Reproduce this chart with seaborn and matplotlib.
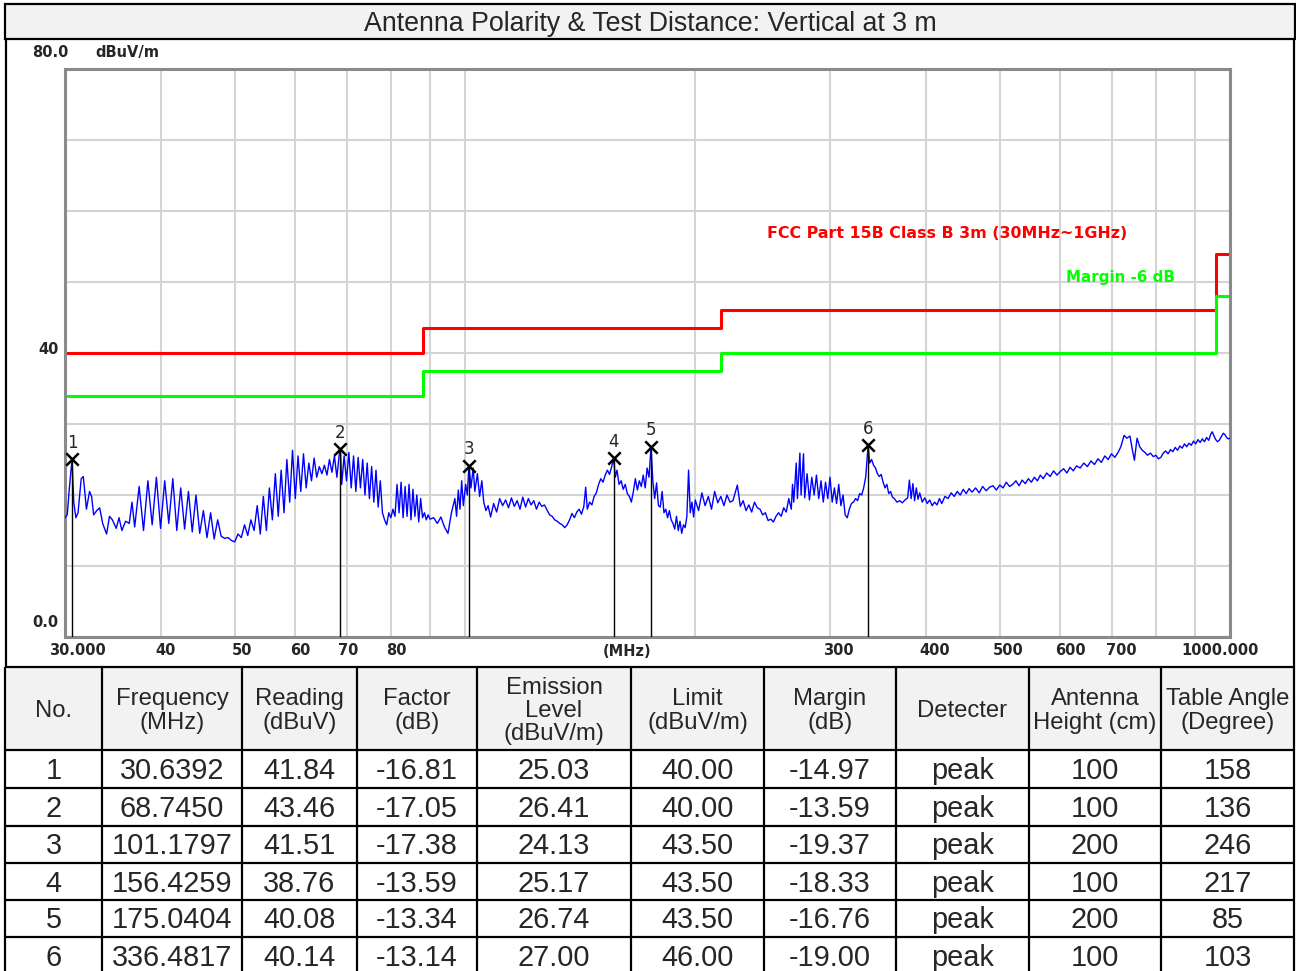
import numpy as np
import pandas as pd
import seaborn as sns
import matplotlib.pyplot as plt
from matplotlib.patches import Rectangle
from matplotlib.ticker import NullFormatter
from matplotlib.transforms import ScaledTranslation

title = "Antenna Polarity & Test Distance: Vertical at 3 m"

trace_mhz = [
    30.0, 30.2, 30.4, 30.64, 30.8, 31.0, 31.2, 31.5, 31.7, 32.0, 32.3, 32.5, 32.7, 33.0, 33.3, 33.6,
    34.0, 34.3, 34.6, 35.0, 35.3, 35.6, 36.0, 36.4, 36.7, 37.0, 37.5, 38.0, 38.5, 39.0, 39.5, 40.0,
    40.5, 41.0, 41.5, 42.0, 42.5, 43.0, 43.5, 44.0, 44.5, 45.0, 45.5, 46.0, 46.5, 47.0, 47.5, 48.0,
    48.5, 49.0, 49.5, 50.0, 50.5, 51.0, 51.5, 52.0, 52.5, 53.0, 53.5, 54.0, 54.5, 55.0, 55.5, 56.0,
    56.5, 57.0, 57.5, 58.0, 58.5, 59.0, 59.5, 60.0, 60.5,
    61.0, 61.5, 62.0, 62.5, 63.0, 63.5, 64.0, 64.5, 65.0, 65.5, 66.0, 66.5, 67.0, 67.5, 68.0, 68.5,
    68.745, 69.0, 69.5, 70.0, 70.5, 71.0, 71.5, 72.0, 72.5, 73.0, 73.5, 74.0, 74.5, 75.0, 75.5, 76.0,
    76.5, 77.0, 77.5, 78.0, 78.5, 79.0, 79.5, 80.0, 80.5, 81.0, 81.5, 82.0, 82.5, 83.0, 83.5, 84.0,
    84.5, 85.0, 85.5, 86.0, 86.5, 87.0, 87.5, 88.0, 88.5, 89.0, 89.5,
    90, 91, 92, 93, 94, 95, 96, 97, 97.5, 98, 98.5, 99, 99.5, 100.2, 100.7, 101.18, 101.8, 102.5,
    103, 103.8, 104.5, 105.2, 105.8, 106.5, 107.2, 108, 109, 110, 111, 112, 113, 114, 115, 116, 117,
    118, 119, 120, 121, 122, 123, 124, 125, 126, 127, 128, 129, 130, 131, 132, 133, 134, 135, 136,
    137, 138, 139, 140, 141, 142, 143, 143.8, 144.5, 145.5, 146.5, 147.5, 148.5, 149.5, 150.5,
    151.5, 152.5, 153.5, 154.5, 155.5, 156.43, 157.2, 158, 159, 160, 161, 162, 163, 164, 165, 166,
    167, 168, 169, 170, 171, 172, 173, 174, 175.04, 176, 177, 178, 179, 180, 181, 182, 183, 184,
    185, 186, 187, 188, 189, 190, 191, 192, 193, 194, 195, 196, 197, 198, 199,
    200, 202, 204, 206, 208, 210, 212, 214, 216, 218, 220, 222, 224, 227, 229, 231, 233, 235, 237,
    239, 241, 243, 245, 247, 249, 251, 253, 255, 257, 259, 261, 263, 265, 267, 268, 269, 271, 272,
    274, 275, 277, 278, 280, 282, 284, 286, 288, 290, 292, 294, 296, 298, 300, 302, 304, 306, 308,
    310, 312, 314, 316, 318, 320, 322, 324, 326, 328, 330, 332, 334, 336.48, 338, 340, 342, 344,
    346, 348, 350, 352, 354, 356, 358, 360, 362, 364, 367, 370, 373, 376, 379, 381, 383, 385, 387,
    389, 391, 393, 396, 399,
    402, 405, 408, 411, 414, 417, 420, 424, 428, 432, 436, 440, 444, 448, 452, 456, 460, 465, 470,
    475, 480, 485, 490, 495, 500, 505, 510, 515, 520, 525, 530, 535, 540, 545, 550, 555, 560, 565,
    570, 576, 582, 588, 594, 600, 606, 612, 618, 624, 630, 637, 644, 651, 658, 665, 672, 679, 686,
    693, 700, 707, 714, 720, 727, 733, 740, 745, 750, 756, 762, 768, 774, 780, 787, 794, 800, 806,
    812, 818, 824, 830, 836, 842, 848, 854, 860, 866, 872, 878, 884, 890, 896, 902, 908, 914, 920,
    926, 932, 938, 944, 948, 953, 958, 963, 968, 974, 980, 985, 990, 995, 1000,
]
trace_dbuv = [
    16.8, 17.2, 21.0, 25.0, 19.0, 16.8, 17.5, 22.3, 22.6, 18.0, 20.5, 19.8, 17.2, 17.8, 18.2, 16.0,
    14.5, 17.0, 16.5, 15.3, 16.8, 15.0, 16.3, 16.0, 19.0, 15.5, 21.2, 15.0, 22.0, 15.8, 22.5, 15.3,
    22.0, 16.0, 22.3, 15.0, 21.0, 15.2, 20.5, 14.8, 20.0, 14.6, 17.8, 14.0, 17.5, 13.8, 16.5, 14.2,
    13.9, 14.0, 13.6, 13.4, 14.5, 14.0, 15.8, 14.3, 16.5, 15.0, 18.5, 14.5, 19.8, 15.0, 21.0, 16.5,
    23.0, 17.0, 23.5, 17.5, 25.0, 19.0, 26.3, 19.5, 25.5,
    20.5, 25.8, 21.0, 24.5, 22.0, 25.2, 22.5, 24.0, 23.0, 24.2, 22.8, 25.0, 23.2, 25.5, 22.5, 25.8,
    26.41, 21.5, 25.5, 22.0, 26.0, 21.0, 25.5, 20.5, 25.3, 21.0, 25.0, 20.0, 24.5, 19.5, 24.0, 19.0,
    23.5, 18.3, 22.0, 17.5, 16.5, 15.8, 17.5, 16.8, 18.0, 17.0, 21.5, 17.5, 21.8, 16.8, 21.2, 17.0,
    21.5, 16.5, 20.8, 17.0, 20.0, 16.2, 19.5, 16.8, 17.5, 16.5, 17.2,
    16.6, 16.8, 16.0, 16.9, 15.5, 14.6, 17.5, 19.5, 17.0, 20.7, 18.0, 22.0, 18.5, 21.5, 20.0, 24.13,
    21.0, 23.8, 20.5, 23.0, 19.8, 22.0, 19.0, 17.8, 18.5, 16.9, 18.8, 17.6, 19.5, 18.5, 19.3, 18.2,
    19.6, 18.4, 19.2, 18.0, 19.7, 18.3, 19.5, 18.6, 19.2, 18.0, 19.0, 18.4, 18.6, 17.9, 17.2, 17.0,
    16.5, 16.3, 16.0, 15.8, 15.4, 15.8, 16.5, 17.4, 16.8, 17.6, 18.0, 17.3, 18.4, 21.1, 18.0, 19.0,
    18.6, 19.8, 20.3, 21.5, 22.3, 21.8, 22.8, 23.5, 22.9, 24.0, 25.17, 22.5, 23.5, 21.5, 22.0, 20.8,
    21.5, 20.2, 19.8, 19.0, 20.5, 22.3, 20.7, 22.0, 21.2, 22.8, 21.0, 23.8, 22.5, 26.74, 22.0, 19.5,
    21.7, 18.5, 18.3, 20.5, 17.5, 18.0, 16.8, 17.8, 16.5, 16.0, 15.2, 17.0, 15.0, 16.3, 14.6, 15.8,
    15.4, 17.0, 23.5, 17.5, 19.0, 16.9,
    19.3, 17.8, 20.3, 18.5, 19.8, 18.0, 20.5, 18.9, 19.8, 18.5, 20.0, 19.0, 19.2, 21.4, 18.4, 19.2,
    17.8, 18.6, 17.6, 19.0, 18.2, 18.0, 17.2, 17.5, 16.4, 16.6, 16.2, 17.0, 17.5, 17.0, 18.2, 17.6,
    19.5, 18.0, 21.5, 19.0, 24.5, 19.5, 25.9, 20.0, 25.8, 19.6, 23.0, 19.3, 22.5, 20.0, 22.8, 19.5,
    22.0, 19.0, 21.8, 19.5, 22.5, 19.0, 21.0, 18.8, 21.5, 18.5, 20.0, 17.2, 16.8, 18.0, 18.8, 19.0,
    19.5, 19.2, 20.2, 20.0, 21.0, 22.5, 27.0, 24.5, 25.0, 24.2, 23.8, 23.0, 22.6, 22.9, 21.8, 21.0,
    21.5, 20.2, 20.5, 19.7, 19.5, 19.0, 19.2, 18.9, 19.3, 19.6, 22.1, 19.5, 21.6, 19.2, 21.0, 19.4,
    20.3, 19.0, 19.6,
    18.8, 19.3, 18.5, 19.0, 18.6, 19.5, 18.8, 19.8, 19.5, 20.3, 19.8, 20.5, 20.0, 20.8, 20.2, 20.9,
    20.4, 21.0, 20.3, 21.2, 20.6, 21.1, 21.3, 20.7, 21.4, 21.0, 21.8, 21.2, 21.5, 22.0, 21.3, 22.1,
    21.6, 22.3, 21.8, 22.5, 22.0, 22.8, 22.3, 23.1, 22.6, 23.4, 22.8, 23.3, 23.7, 23.1, 23.9, 23.4,
    24.1, 23.8, 24.5, 24.0, 24.8, 24.3, 25.1, 24.6, 25.5, 25.0, 25.8, 25.3, 26.0, 26.8, 28.4, 28.0,
    28.3, 26.5, 24.9, 28.0, 26.8, 26.3, 26.0, 25.6, 25.9, 25.4, 25.6, 25.1, 25.3, 25.9, 26.2, 25.8,
    26.4, 26.1, 26.7, 26.3, 26.9, 26.6, 27.2, 26.8, 27.3, 27.0, 27.6, 27.2, 27.8, 27.4, 27.9, 27.5,
    28.1, 27.7, 28.6, 28.9, 28.3, 27.8, 27.5, 27.7, 28.2, 28.7, 28.5, 28.1, 27.9, 28.0,
]
assert len(trace_mhz) == len(trace_dbuv)

# FCC Part 15B class B (3 m) limit and -6 dB margin, step edges in MHz
limit_edges = [30, 88, 216, 960, 1000]
limit_dbuv = [40.0, 43.5, 46.0, 54.0, 54.0]
margin_dbuv = [34.0, 37.5, 40.0, 48.0, 48.0]

# marker table
peak_no = [1, 2, 3, 4, 5, 6]
peak_freq = [30.6392, 68.7450, 101.1797, 156.4259, 175.0404, 336.4817]
peak_reading = [41.84, 43.46, 41.51, 38.76, 40.08, 40.14]
peak_factor = [-16.81, -17.05, -17.38, -13.59, -13.34, -13.14]
peak_level = [25.03, 26.41, 24.13, 25.17, 26.74, 27.00]
peak_limit = [40.00, 40.00, 43.50, 43.50, 43.50, 46.00]
peak_margin = [-14.97, -13.59, -19.37, -18.33, -16.76, -19.00]
peak_detector = ["peak"] * 6
peak_height = [100, 100, 200, 100, 200, 100]
peak_angle = [158, 136, 246, 217, 85, 103]

header = ["No.", "Frequency\n(MHz)", "Reading\n(dBuV)", "Factor\n(dB)",
          "Emission\nLevel\n(dBuV/m)", "Limit\n(dBuV/m)", "Margin\n(dB)", "Detecter",
          "Antenna\nHeight (cm)", "Table Angle\n(Degree)"]

xtick_vals = [30, 40, 50, 60, 70, 80, 300, 400, 500, 600, 700, 1000]
xtick_text = ["30.000", "40", "50", "60", "70", "80", "300", "400", "500", "600", "700", "1000.000"]
xgrid_minor = [90, 100, 200, 800, 900]
ytick_vals = [80, 40, 0]
ytick_text = ["80.0", "40", "0.0"]

sns.set_style("white")
plt.rcParams["font.family"] = ["Liberation Sans", "DejaVu Sans"]

W, H = 1296, 971
fig = plt.figure(figsize=(W / 100, H / 100), dpi=100)


def px_box(left, top, right, bottom):
    return [left / W, 1 - bottom / H, (right - left) / W, (bottom - top) / H]


# frame, title bar and table in pixel coords
bg = fig.add_axes([0, 0, 1, 1])
bg.set_xlim(0, W)
bg.set_ylim(H, 0)
bg.axis("off")
bg.add_patch(Rectangle((5, 4), 1290, 35, fc="#f2f2f2", ec="black", lw=1.6))
bg.text(650, 24, title, ha="center", va="center", fontsize=19.3)
bg.vlines([6, 1294], 39, 667, color="black", lw=1.6)

col_edges = [5, 102, 242, 357, 477, 631, 764, 896, 1029, 1161, 1294]
row_lines = [667, 750, 788, 826, 863, 900, 937, 975]
bg.add_patch(Rectangle((5, 667), 1289, 83, fc="#f2f2f2", ec="none"))
bg.hlines(row_lines[:-1], 5, 1294, color="black", lw=1.6)
bg.vlines(col_edges, 667, H, color="black", lw=1.6)
col_mid = [(a + b) / 2 for a, b in zip(col_edges[:-1], col_edges[1:])]
for xm, txt in zip(col_mid, header):
    bg.text(xm, 711, txt, ha="center", va="center", fontsize=17.2, linespacing=1.08)

rows = zip(peak_no, peak_freq, peak_reading, peak_factor, peak_level, peak_limit,
           peak_margin, peak_detector, peak_height, peak_angle)
for i, r in enumerate(rows):
    cells = [str(r[0]), f"{r[1]:.4f}", f"{r[2]:.2f}", f"{r[3]:.2f}", f"{r[4]:.2f}",
             f"{r[5]:.2f}", f"{r[6]:.2f}", r[7], str(r[8]), str(r[9])]
    ym = (row_lines[i + 1] + row_lines[i + 2]) / 2 + 2
    for xm, txt in zip(col_mid, cells):
        bg.text(xm, ym, txt, ha="center", va="center", fontsize=20.8)

# spectrum plot
ax = fig.add_axes(px_box(65, 69, 1230, 637))
ax.set_xscale("log")
ax.set_xlim(30, 1000)
ax.set_ylim(0, 80)

df = pd.DataFrame({"MHz": trace_mhz, "dBuV/m": trace_dbuv})
sns.lineplot(data=df, x="MHz", y="dBuV/m", ax=ax, color="#0000ff", lw=1.0,
             estimator=None, sort=False, zorder=3)
sns.lineplot(x=limit_edges, y=limit_dbuv, ax=ax, color="#ff0000", lw=2.2,
             drawstyle="steps-post", estimator=None, zorder=2)
sns.lineplot(x=limit_edges, y=margin_dbuv, ax=ax, color="#00ff00", lw=2.2,
             drawstyle="steps-post", estimator=None, zorder=2)

ax.vlines(peak_freq, 0, peak_level, color="black", lw=1.0, zorder=4)
sns.scatterplot(x=peak_freq, y=peak_level, ax=ax, marker="x", s=80, color="black",
                linewidth=1.8, zorder=5)
for n, f, lv in zip(peak_no, peak_freq, peak_level):
    ax.annotate(str(n), (f, lv), xytext=(0, 12), textcoords="offset points",
                ha="center", va="center", fontsize=12, family="DejaVu Sans")

ax.text(248, 56.8, "FCC Part 15B Class B 3m (30MHz~1GHz)", color="#ff0000",
        fontsize=11.4, weight="bold", family="DejaVu Sans", va="center")
ax.text(610, 50.7, "Margin -6 dB", color="#00ff00", fontsize=10.9, weight="bold",
        family="DejaVu Sans", va="center")

ax.set_xticks(xtick_vals, labels=xtick_text)
ax.set_xticks(xgrid_minor, minor=True)
ax.xaxis.set_minor_formatter(NullFormatter())
ax.set_yticks(range(0, 81, 10))
ax.set_yticklabels([])
ax.grid(which="both", color="#d4d4d4", lw=1.5, zorder=0)
ax.tick_params(which="both", length=0)
ax.tick_params(axis="x", pad=10)
x_shift_px = [12, 5, 7, 5, 2, 6, 8, 9, 8, 10, 10, -10]
for lab, dx in zip(ax.get_xticklabels(), x_shift_px):
    lab.set_fontfamily("DejaVu Sans")
    lab.set_fontweight("bold")
    lab.set_fontsize(10.5)
    lab.set_va("center")
    lab.set_transform(lab.get_transform() + ScaledTranslation(dx / 100, 0, fig.dpi_scale_trans))
ax.set_xlabel("")
ax.set_ylabel("")
ax.text((627 - 65) / 1165, -14 / 568, "(MHz)", transform=ax.transAxes, ha="center",
        va="center", fontsize=10.5, weight="bold", family="DejaVu Sans")

ylab_left_px = [32, 38, 32]
ylab_rise_px = [17, 4, 15]
for val, txt, lx, dy in zip(ytick_vals, ytick_text, ylab_left_px, ylab_rise_px):
    ax.annotate(txt, ((lx - 65) / 1165, val), xycoords=ax.get_yaxis_transform(),
                xytext=(0, dy * 0.72), textcoords="offset points", ha="left", va="center",
                fontsize=10.5, weight="bold", family="DejaVu Sans", annotation_clip=False)
ax.annotate("dBuV/m", ((95 - 65) / 1165, 80), xycoords=ax.get_yaxis_transform(),
            xytext=(0, 17 * 0.72), textcoords="offset points", ha="left", va="center",
            fontsize=10.5, weight="bold", family="DejaVu Sans", annotation_clip=False)

for side in ["left", "right", "top", "bottom"]:
    ax.spines[side].set_visible(True)
    ax.spines[side].set_color("#8a8a8a")
    ax.spines[side].set_linewidth(2.2)

fig.savefig("out.png", dpi=100)
